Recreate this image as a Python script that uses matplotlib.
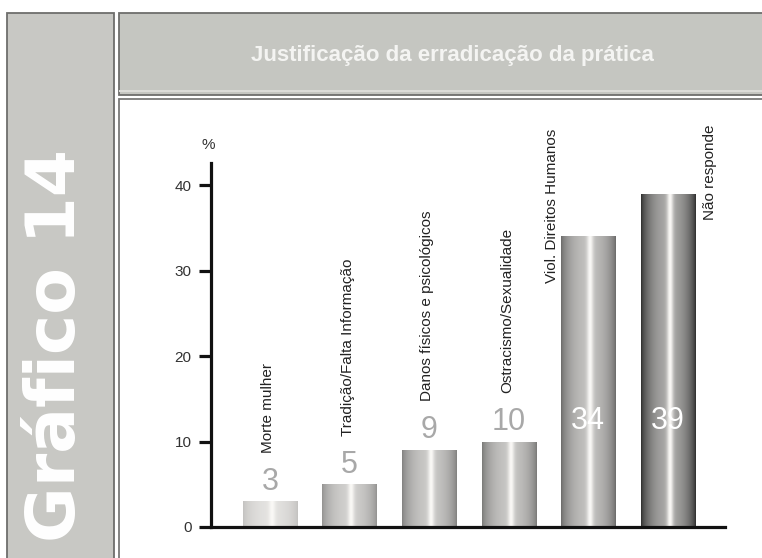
import numpy as np
import matplotlib
matplotlib.use("Agg")
import matplotlib.pyplot as plt
from matplotlib.patches import Rectangle

plt.rcParams['font.family'] = ['Liberation Sans', 'DejaVu Sans']

# ---- data ----
categories = ["Morte mulher", "Tradição/Falta Informação", "Danos físicos e psicológicos",
              "Ostracismo/Sexualidade", "Viol. Direitos Humanos", "Não responde"]
values = [3, 5, 9, 10, 34, 39]
yticks = [0, 10, 20, 30, 40]
ytick_labels = ["0", "10", "20", "30", "40"]
title = "Justificação da erradicação da prática"
side_title = "Gráfico 14"

# ---- style ----
edge_gray = [0.76, 0.57, 0.50, 0.47, 0.41, 0.17]
W, H = 762, 558

fig = plt.figure(figsize=(W / 100, H / 100), dpi=100)

def frect(x0, y0, x1, y1, **kw):
    r = Rectangle((x0 / W, 1 - y1 / H), (x1 - x0) / W, (y1 - y0) / H,
                  transform=fig.transFigure, zorder=-5, **kw)
    fig.patches.append(r)
    return r

# left panel
frect(7, 13, 114, 570, facecolor="#c8c8c4", edgecolor="#6e6e6c", linewidth=1.3)
# header
frect(119, 13, 775, 95, facecolor="#c5c6c1", edgecolor="#6e6e6c", linewidth=1.3)
frect(119, 90, 775, 92, facecolor="#dcdcd8", edgecolor="none")
# chart box
frect(119, 99, 775, 570, facecolor="white", edgecolor="#7a7a78", linewidth=1.3)

fig.text(452 / W, 1 - 55 / H, title, color="#f4f4f2", fontsize=16, fontweight="bold",
         ha="center", va="center")
fig.text(56 / W, 1 - 346 / H, side_title, color="white", fontsize=49, fontweight="bold",
         family="DejaVu Sans", rotation=90, ha="center", va="center")

# axes
ax = fig.add_axes([211 / W, 1 - 527 / H, (725 - 211) / W, (527 - 163) / H])
ax.set_zorder(5)
ax.set_facecolor("none")
x = np.arange(len(values))
bars = ax.bar(x, values, width=0.68, color="none", edgecolor="none", zorder=2)

xs = np.linspace(0, 1, 200)
shape = 0.6 * np.clip(1 - ((xs - 0.5) / 0.5) ** 2, 0, 1) ** 0.7 + 0.4 * np.exp(-((xs - 0.53) / 0.06) ** 2)
shape = np.clip(shape, 0, 1)
for rect, e in zip(bars, edge_gray):
    v = e + (0.98 - e) * shape
    img = np.stack([v * 1.0, v * 0.995, v * 0.985], axis=-1)[None, :, :]
    x0 = rect.get_x()
    w = rect.get_width()
    h = rect.get_height()
    im = ax.imshow(img, extent=(x0, x0 + w, 0, h), aspect="auto", zorder=1,
                   interpolation="bilinear")
    im.set_clip_path(rect)

ax.set_xlim(-0.74, 5.72)
ax.set_ylim(0, 42.6)

for s in ["top", "right"]:
    ax.spines[s].set_visible(False)
ax.spines["left"].set_linewidth(2.3)
ax.spines["bottom"].set_linewidth(2.3)
ax.spines["left"].set_color("#111111")
ax.spines["bottom"].set_color("#111111")
ax.set_xticks([])
ax.set_yticks(yticks)
ax.set_yticklabels(ytick_labels)
ax.tick_params(axis="y", direction="out", length=9, width=2.3, color="#111111",
               labelsize=11, labelcolor="#333333", pad=5)

ax.text(-0.006, 1.05, "%", transform=ax.transAxes, fontsize=11, color="#333333",
        ha="center", va="center")

# value labels
for i, v in enumerate(values):
    if v > 20:
        ax.text(i, 12.4, str(v), ha="center", va="center", fontsize=22, color="white", zorder=3)
    else:
        ax.text(i, v + 2.3, str(v), ha="center", va="center", fontsize=22, color="#a8a8a8", zorder=3)

# category labels
for i, (c, v) in enumerate(zip(categories, values)):
    if i == 4:
        ax.text(i - 0.46, 28.5, c, rotation=90, ha="center", va="bottom", fontsize=11,
                color="#222222", clip_on=False)
    elif i == 5:
        ax.text(i + 0.53, 35.9, c, rotation=90, ha="center", va="bottom", fontsize=11,
                color="#222222", clip_on=False)
    else:
        ax.text(i - 0.02, v + 5.7, c, rotation=90, ha="center", va="bottom", fontsize=11,
                color="#222222", clip_on=False)

fig.savefig("out.png", dpi=100)
